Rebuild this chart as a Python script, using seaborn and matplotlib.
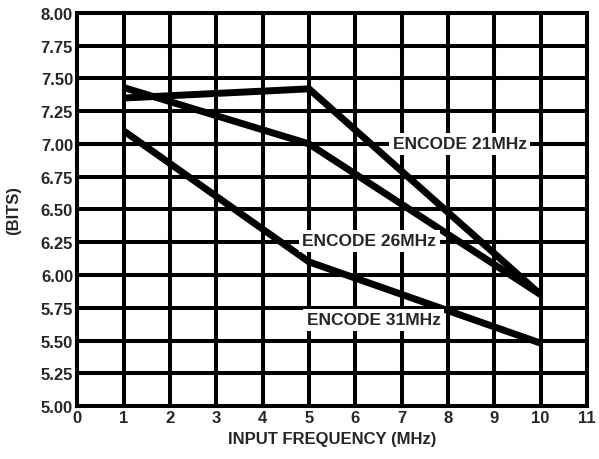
import matplotlib
matplotlib.use("Agg")
import matplotlib.pyplot as plt
import seaborn as sns
import pandas as pd

freq_21 = [1, 5, 10]
bits_21 = [7.35, 7.42, 5.85]
freq_26 = [1, 5, 10]
bits_26 = [7.43, 7.00, 5.85]
freq_31 = [1, 5, 10]
bits_31 = [7.10, 6.10, 5.48]

labels = ["ENCODE 21MHz", "ENCODE 26MHz", "ENCODE 31MHz"]
label_pos = [(8.25, 7.00), (6.3, 6.26), (6.4, 5.66)]

x_ticks = list(range(0, 12))
y_ticks = [5.00, 5.25, 5.50, 5.75, 6.00, 6.25, 6.50, 6.75, 7.00, 7.25, 7.50, 7.75, 8.00]

df = pd.concat([
    pd.DataFrame({"freq": freq_21, "bits": bits_21, "series": labels[0]}),
    pd.DataFrame({"freq": freq_26, "bits": bits_26, "series": labels[1]}),
    pd.DataFrame({"freq": freq_31, "bits": bits_31, "series": labels[2]}),
])

sns.set_style("white")
plt.rcParams['font.family'] = ['Liberation Sans', 'DejaVu Sans']

fig = plt.figure(figsize=(5.99, 4.60), dpi=100)
ax = fig.add_axes([0.129, 0.115, 0.851, 0.855])

sns.lineplot(data=df, x="freq", y="bits", units="series", estimator=None,
             color="black", linewidth=5.0, ax=ax, legend=False, zorder=3,
             solid_joinstyle="miter", solid_capstyle="butt")

ax.set_xlim(0, 11)
ax.set_ylim(5.0, 8.0)
ax.set_xticks(x_ticks)
ax.set_yticks(y_ticks)
ax.set_xticklabels([str(v) for v in x_ticks], fontsize=12, fontweight="bold")
ax.set_yticklabels([f"{v:.2f}" for v in y_ticks], fontsize=12, fontweight="bold")
ax.tick_params(length=0, pad=3)
ax.grid(True, color="black", linewidth=2.9)
ax.set_axisbelow(True)
for s in ax.spines.values():
    s.set_color("black")
    s.set_linewidth(2.9)

ax.set_xlabel("INPUT FREQUENCY (MHz)", fontsize=12, fontweight="bold", labelpad=4)
ax.set_ylabel("(BITS)", fontsize=12, fontweight="bold", labelpad=14)

for lab, (lx, ly) in zip(labels, label_pos):
    ax.text(lx, ly, lab, fontsize=12.5, fontweight="bold", ha="center", va="center", zorder=5,
            bbox=dict(facecolor="white", edgecolor="none", pad=2.5))

fig.savefig("out.png", dpi=100)
